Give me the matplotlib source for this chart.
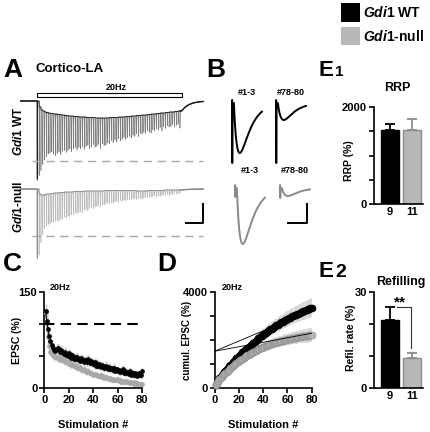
import numpy as np
import matplotlib
matplotlib.use('Agg')
import matplotlib.pyplot as plt
from matplotlib.patches import Rectangle

plt.rcParams['font.family'] = ['Liberation Sans', 'DejaVu Sans']
plt.rcParams['font.weight'] = 'bold'
plt.rcParams['axes.labelweight'] = 'bold'
plt.rcParams['mathtext.fontset'] = 'custom'
plt.rcParams['mathtext.it'] = 'Liberation Sans:italic:bold'
plt.rcParams['mathtext.rm'] = 'Liberation Sans:bold'
plt.rcParams['axes.linewidth'] = 1.2

# ---------------- data ----------------
groups = [r'$\mathit{Gdi1}$ WT', r'$\mathit{Gdi1}$-null']
group_colors = ['black', '#b8b8b8']
n_cells = ['9', '11']
stim = np.arange(1, 81)

epsc_wt = [121, 104, 92, 81, 73, 67, 62, 60, 58, 61,
           63, 59, 57, 60, 55, 53, 56, 52, 50, 54,
           49, 47, 51, 46, 48, 45, 49, 44, 42, 47,
           45, 41, 44, 43, 40, 46, 39, 42, 41, 38,
           40, 35, 38, 34, 37, 33, 36, 34, 31, 35,
           32, 30, 33, 29, 31, 28, 32, 27, 29, 26,
           28, 25, 27, 29, 24, 26, 23, 25, 22, 27,
           21, 24, 20, 23, 22, 19, 23, 21, 20, 26]
epsc_null = [117, 102, 80, 66, 57, 53, 51, 50, 48, 49,
             47, 46, 48, 44, 45, 42, 43, 40, 41, 38,
             39, 36, 37, 35, 34, 36, 32, 31, 33, 29,
             28, 30, 27, 26, 25, 27, 23, 24, 22, 21,
             22, 20, 21, 19, 18, 20, 17, 18, 16, 17,
             15, 16, 14, 15, 13, 14, 13, 12, 14, 12,
             11, 12, 10, 11, 10, 9, 11, 9, 10, 8,
             9, 8, 7, 9, 7, 8, 6, 7, 6, 6]
sem_wt = [9, 8, 8, 7, 7, 6, 6, 6, 6, 6,
          6, 6, 6, 5, 6, 5, 6, 5, 5, 6,
          5, 5, 6, 5, 5, 5, 6, 5, 5, 5,
          5, 5, 5, 5, 5, 5, 5, 5, 5, 5,
          5, 4, 5, 4, 5, 4, 5, 4, 4, 5,
          4, 4, 5, 4, 4, 4, 5, 4, 4, 4,
          4, 4, 4, 5, 4, 4, 4, 4, 4, 4,
          4, 4, 4, 4, 4, 4, 4, 4, 4, 5]
sem_null = [8, 7, 6, 6, 5, 5, 5, 5, 5, 5,
            5, 5, 5, 4, 5, 4, 5, 4, 4, 4,
            4, 4, 4, 4, 4, 4, 4, 4, 4, 4,
            4, 4, 4, 4, 4, 4, 3, 4, 3, 3,
            3, 3, 3, 3, 3, 3, 3, 3, 3, 3,
            3, 3, 3, 3, 3, 3, 3, 3, 3, 3,
            3, 3, 3, 3, 3, 3, 3, 3, 3, 3,
            3, 3, 3, 3, 3, 3, 3, 3, 3, 3]

rrp = [1530, 1530]          # RRP (%)
rrp_sem = [110, 230]
refill = [21.3, 9.4]        # refilling rate (%)
refill_sem = [4.0, 1.7]

# panel A: tonic (inter-pulse) current level per pulse, pA
wt_tonic = [0, 60, 90, 100, 110, 115, 120, 125, 125, 130,
            130, 135, 135, 140, 140, 145, 145, 150, 150, 150,
            155, 155, 155, 160, 160, 160, 160, 165, 165, 165,
            165, 165, 170, 170, 170, 170, 170, 170, 170, 170,
            165, 165, 165, 165, 165, 160, 160, 160, 160, 155,
            155, 155, 150, 150, 150, 145, 145, 145, 140, 140,
            140, 135, 135, 130, 130, 130, 125, 125, 120, 120,
            120, 115, 115, 110, 110, 110, 105, 105, 100, 100]
null_tonic = [0, 50, 60, 60, 55, 50, 50, 45, 45, 40,
              40, 40, 35, 35, 35, 30, 30, 30, 30, 30,
              25, 25, 25, 25, 25, 25, 20, 20, 20, 20,
              20, 20, 20, 20, 20, 20, 20, 15, 15, 15,
              15, 15, 15, 15, 15, 15, 15, 15, 15, 15,
              15, 15, 15, 15, 15, 20, 20, 20, 20, 20,
              20, 15, 15, 15, 15, 15, 15, 15, 15, 15,
              10, 10, 10, 10, 10, 10, 10, 10, 10, 10]
a_scale = [660, 600]        # pA corresponding to 100 % EPSC
a_ref_level = [600, 470]    # dashed reference level, pA

# panel B: averaged EPSCs
b_windows = ['#1-3', '#78-80']
b_wt_amp = [500, 170]
b_null_amp = [560, 80]
b_wt_art = [600, 600]
b_null_art = [90, 100]

# ---------------- figure ----------------
W, H = 430, 432
fig = plt.figure(figsize=(W / 100, H / 100), dpi=100)


def axes_px(x0, y0, x1, y1):
    return fig.add_axes([x0 / W, 1 - y1 / H, (x1 - x0) / W, (y1 - y0) / H])


def ftext(x, y, s, **kw):
    return fig.text(x / W, 1 - y / H, s, **kw)


# ---------------- panel A ----------------
axA = axes_px(20, 80, 205, 265)
axA.set_xlim(-0.479, 4.645)
axA.set_ylim(-1640, 210)
axA.axis('off')

dt = 0.00025
t = np.arange(-0.46, 4.60, dt)
pulse_t = (stim - 1) * 0.05
td, tr = 0.004, 0.0006
sg = np.linspace(0, 0.02, 2001)
gmax = np.max(np.exp(-sg / td) - np.exp(-sg / tr))


def synth(epsc, tonic, scale, base):
    ph = np.zeros_like(t)
    for k in range(80):
        s = t - pulse_t[k]
        m = (s >= 0) & (s < 0.2)
        ph[m] += epsc[k] / 100 * scale * (np.exp(-s[m] / td) - np.exp(-s[m] / tr)) / gmax
    ton = np.zeros_like(t)
    idx = np.clip(np.floor(t / 0.05).astype(int), 0, 79)
    ins = (t >= 0) & (t < 4.0)
    ton[ins] = np.asarray(tonic, float)[idx[ins]]
    post = t >= 4.0
    ton[post] = tonic[-1] * np.exp(-(t[post] - 4.0) / 0.2)
    return base - ton - ph, base - ton


bases = [0, -880]
trace_cols = [('#7c7c7c', '#1a1a1a'), ('#bcbcbc', '#8a8a8a')]
for g, (ep, ton) in enumerate([(epsc_wt, wt_tonic), (epsc_null, null_tonic)]):
    y, env = synth(ep, ton, a_scale[g], bases[g])
    c_sp, c_edge = trace_cols[g]
    axA.plot(t, y, color=c_sp, lw=0.45)
    axA.plot(t, env, color=c_edge, lw=0.6)
    m_pre = t < 0.001
    m_post = t > 3.96
    axA.plot(t[m_pre], y[m_pre], color=c_edge, lw=1.0)
    axA.plot(t[m_post], env[m_post], color=c_edge, lw=1.0)
    axA.hlines(bases[g] - a_ref_level[g], -0.155, 4.6, colors='#a8a8a8', lw=1.0,
               linestyles=(0, (6, 4)))

axA.add_patch(Rectangle((0, 37), 4.0, 40, facecolor='white', edgecolor='black', lw=0.8))
axA.text(2.2, 130, '20Hz', fontsize=6.5, ha='center', va='center')
# scale bar
axA.plot([4.09, 4.59, 4.59], [-1223, -1223, -1023], color='black', lw=1.4,
         solid_capstyle='butt')

ftext(18, 131, groups[0], rotation=90, ha='center', va='center', fontsize=8.5)
ftext(18, 207, groups[1], rotation=90, ha='center', va='center', fontsize=8.5)
ftext(35, 69, 'Cortico-LA', fontsize=9.5, va='center', ha='left')

# ---------------- panel B ----------------
axB = axes_px(225, 80, 315, 265)
axB.set_xlim(-5.6, 66.4)
axB.set_ylim(-1620, 230)
axB.axis('off')
tb = np.arange(0.5, 24, 0.1)
sb = tb - 1.5
kb = np.where(sb > 0, np.exp(-sb / 8.0) - np.exp(-sb / 3.0), 0)
kb = kb / kb.max()
b_offsets = [[0.0, 35.2], [2.4, 38.4]]
b_bases = [0, -850]
b_cols = ['black', '#8a8a8a']
for g, (amps, arts) in enumerate([(b_wt_amp, b_wt_art), (b_null_amp, b_null_art)]):
    for k in range(2):
        x0 = b_offsets[g][k]
        base = b_bases[g]
        xs = np.concatenate([[0, 0.1, 0.2, 0.4], tb]) + x0
        ys = np.concatenate([[base, base + 30, base - arts[k], base],
                             base - amps[k] * kb])
        axB.plot(xs, ys, color=b_cols[g], lw=1.4)
        axB.text(x0 + 12, base + (60 if g == 0 else 130), b_windows[k],
                 fontsize=6.5, ha='center', va='bottom')
axB.plot([43.8, 59.8, 59.8], [-1203, -1203, -1003], color='black', lw=1.4,
         solid_capstyle='butt')

# ---------------- panel C ----------------
def style_axes(ax):
    for sp in ['top', 'right']:
        ax.spines[sp].set_visible(False)
    ax.tick_params(direction='out', length=3.5, width=1.2, labelsize=8, pad=1.5)


axC = axes_px(44.3, 292, 142.3, 388)
axC.errorbar(stim, epsc_wt, yerr=sem_wt, fmt='none', ecolor='#c4c4c4', elinewidth=0.8,
             capsize=0.8, zorder=1)
axC.errorbar(stim, epsc_null, yerr=sem_null, fmt='none', ecolor='#d6d6d6', elinewidth=0.8,
             capsize=0.8, zorder=1)
axC.plot(stim, epsc_null, '-o', color='#a8a8a8', ms=2.4, lw=0.8, zorder=3, clip_on=False)
axC.plot(stim, epsc_wt, '-o', color='black', ms=2.4, lw=0.8, zorder=4, clip_on=False)
axC.hlines(100, 0, 80, colors='black', lw=1.5, linestyles=(0, (5, 3)), zorder=5)
axC.set_xlim(0, 80)
axC.set_ylim(0, 150)
axC.set_xticks([0, 20, 40, 60, 80])
axC.set_yticks([0, 50, 100, 150], ['0', '', '', '150'])
style_axes(axC)
axC.set_xlabel('Stimulation #', fontsize=8)
axC.xaxis.set_label_coords(0.5, -0.33)
axC.set_ylabel('EPSC (%)', fontsize=7.5)
axC.yaxis.set_label_coords(-0.23, 0.5)
ftext(50, 287, '20Hz', fontsize=6.5, va='center')

# ---------------- panel D ----------------
cum_wt = np.cumsum(epsc_wt)
cum_null = np.cumsum(epsc_null)
cum_sem_wt = np.cumsum(sem_wt)
cum_sem_null = np.cumsum(sem_null)
axD = axes_px(214.5, 292, 311.7, 388)
axD.errorbar(stim, cum_wt, yerr=cum_sem_wt, fmt='none', ecolor='#d8d8d8', elinewidth=1.4,
             zorder=1)
axD.errorbar(stim, cum_null, yerr=cum_sem_null, fmt='none', ecolor='#d8d8d8', elinewidth=1.4,
             zorder=1)
axD.plot(stim, cum_wt, 'o', ms=5, mfc='black', mec='black', mew=0.5, zorder=3, clip_on=False)
axD.plot(stim, cum_null, 'o', ms=5, mfc='#b4b4b4', mec='#909090', mew=0.5, zorder=4,
         clip_on=False)
xfit = np.array([0, 80])
for g in range(2):
    axD.plot(xfit, rrp[g] + refill[g] * xfit, color='black', lw=0.6, zorder=5)
axD.set_xlim(0, 80)
axD.set_ylim(0, 4000)
axD.set_xticks([0, 20, 40, 60, 80])
axD.set_yticks([0, 1000, 2000, 3000, 4000], ['0', '', '', '', '4000'])
style_axes(axD)
axD.set_xlabel('Stimulation #', fontsize=8)
axD.xaxis.set_label_coords(0.5, -0.33)
axD.set_ylabel('cumul. EPSC (%)', fontsize=7)
axD.yaxis.set_label_coords(-0.23, 0.5)
ftext(222, 287, '20Hz', fontsize=6.5, va='center')

# ---------------- panel E ----------------
xb = np.arange(2)
edge_cols = ['black', '#8c8c8c']
err_cols = ['black', '#8c8c8c']


def bar_panel(ax, vals, sems, ymax, ticks, ticklabels):
    ax.bar(xb, vals, width=0.86, color=group_colors, edgecolor=edge_cols, lw=1.0, zorder=2)
    for g in range(2):
        ax.errorbar(xb[g], vals[g], yerr=[[0], [sems[g]]], fmt='none', ecolor=err_cols[g],
                    elinewidth=1.3, capsize=3.5, capthick=1.3, zorder=1)
    ax.set_xlim(-0.727, 1.5)
    ax.set_ylim(0, ymax)
    ax.set_yticks(ticks, ticklabels)
    ax.set_xticks(xb, n_cells)
    style_axes(ax)
    ax.tick_params(axis='x', length=0, pad=2.5)


axE1 = axes_px(374, 107, 423, 204)
bar_panel(axE1, rrp, rrp_sem, 2000, [0, 500, 1000, 1500, 2000], ['0', '', '', '', '2000'])
axE1.set_ylabel('RRP (%)', fontsize=7.5)
axE1.yaxis.set_label_coords(-0.40, 0.45)
ftext(397, 88, 'RRP', fontsize=9, ha='center', va='center')

axE2 = axes_px(374, 292.3, 423, 388)
bar_panel(axE2, refill, refill_sem, 30, [0, 10, 20, 30], ['0', '', '', '30'])
axE2.set_ylabel('Refil. rate (%)', fontsize=7.5)
axE2.yaxis.set_label_coords(-0.36, 0.52)
top_wt = refill[0] + refill_sem[0]
top_null = refill[1] + refill_sem[1]
axE2.plot([0.33, 0.96, 0.96], [top_wt, top_wt, top_null + 1.3], color='#333333', lw=0.8)
axE2.text(0.45, top_wt + 0.4, '**', fontsize=11, ha='center', va='baseline')
ftext(401, 282, 'Refilling', fontsize=9, ha='center', va='center')

# ---------------- panel labels ----------------
ftext(3, 77, 'A', fontsize=19, va='baseline')
ftext(206, 77, 'B', fontsize=19, va='baseline')
ftext(3, 271, 'C', fontsize=19, va='baseline')
ftext(157, 271, 'D', fontsize=19, va='baseline')
ftext(318, 76, 'E', fontsize=16, va='baseline')
ftext(335, 76, '1', fontsize=11, va='baseline')
ftext(318, 277, 'E', fontsize=16, va='baseline')
ftext(335, 277, '2', fontsize=14, va='baseline')

# ---------------- legend ----------------
for g, ytop in enumerate([3.3, 27.0]):
    fig.add_artist(Rectangle((340.7 / W, 1 - (ytop + 18.4) / H), 19.3 / W, 18.4 / H,
                             transform=fig.transFigure, facecolor=group_colors[g],
                             edgecolor='none'))
    ftext(363, ytop + 9.5, groups[g], fontsize=10, va='center', ha='left')

fig.savefig('out.png', dpi=100)
